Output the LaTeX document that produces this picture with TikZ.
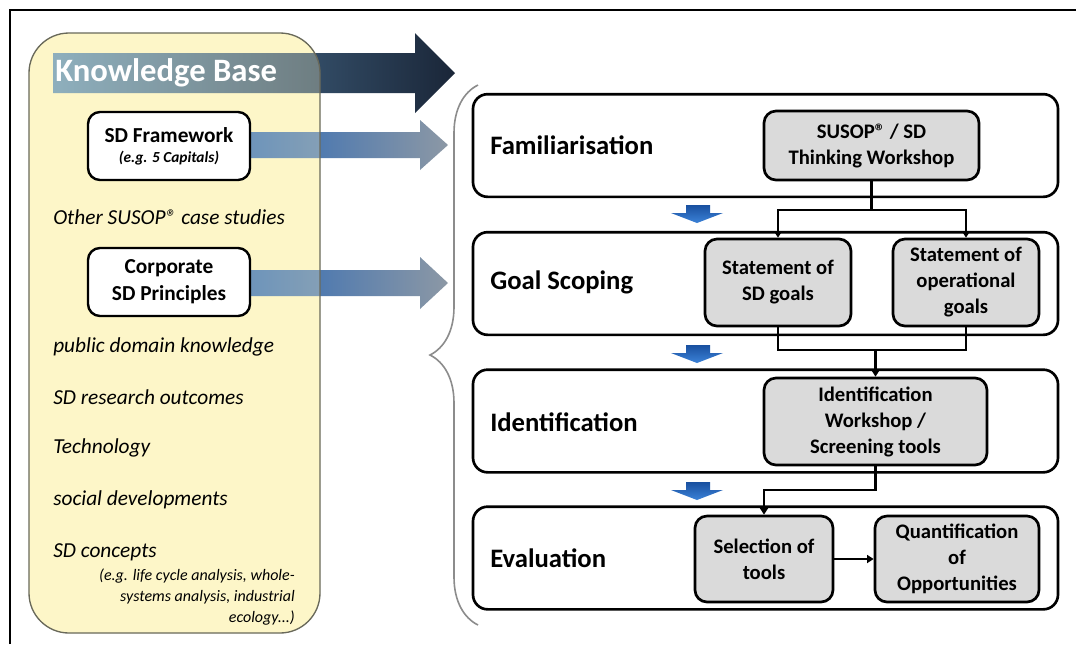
\documentclass[tikz,border=0pt]{standalone}
\usepackage{fontspec}
\setmainfont{Carlito}
\usetikzlibrary{arrows.meta,decorations.pathreplacing}
\definecolor{kbyellow}{RGB}{253,246,200}
\definecolor{kbborder}{RGB}{105,105,90}
\definecolor{boxgray}{RGB}{218,218,218}
\definecolor{bracegray}{RGB}{140,140,140}
\definecolor{bigL}{RGB}{95,145,185}
\definecolor{bigR}{RGB}{26,38,56}
\definecolor{smL}{RGB}{25,95,185}
\definecolor{smR}{RGB}{140,152,165}
\definecolor{dnTop}{RGB}{25,80,160}
\definecolor{dnBot}{RGB}{60,130,215}
\begin{document}
\begin{tikzpicture}[x=0.75pt,y=-0.75pt,
  stagebox/.style={draw=black, line width=2pt, fill=white, rounded corners=11pt,
    minimum width=438.75pt, minimum height=77pt, inner sep=0pt},
  stagelabel/.style={anchor=west, inner sep=0pt, font=\bfseries\fontsize{20}{24}\selectfont},
  ibox/.style={draw=black, line width=2pt, fill=boxgray, rounded corners=9pt, align=center,
    inner sep=0pt, font=\bfseries\fontsize{15.5}{19.5}\selectfont},
  kbox/.style={draw=black, line width=1.8pt, fill=white, rounded corners=9pt, align=center,
    inner sep=0pt, minimum width=121.5pt, minimum height=51pt},
  item/.style={anchor=west, inner sep=0pt, font=\itshape\fontsize{16}{19}\selectfont},
  conn/.style={draw=black, line width=2pt},
  tip/.style={-{Triangle[length=5pt,width=6pt]}}
]
\useasboundingbox (0,0) rectangle (1076,644);
\fill[white] (0,0) rectangle (1076,644);
\draw[line width=1.5pt] (10,644) -- (10,10) -- (1076,10);

% knowledge base panel (opaque base)
\fill[kbyellow, rounded corners=30pt] (29,33) rectangle (320,633);

% wide arrows
\shade[left color=bigL, right color=bigR]
  (53,53) -- (415,53) -- (415,33) -- (455,73) -- (415,113) -- (415,93) -- (53,93) -- cycle;
\shade[left color=smL, right color=smR]
  (200,132) -- (420,132) -- (420,120) -- (448,145) -- (420,170) -- (420,158) -- (200,158) -- cycle;
\shade[left color=smL, right color=smR]
  (200,270) -- (420,270) -- (420,257) -- (448,283) -- (420,309) -- (420,296) -- (200,296) -- cycle;

% translucent overlay of the panel
\fill[kbyellow, fill opacity=0.3, rounded corners=30pt] (29,33) rectangle (320,633);
\draw[kbborder, line width=1pt, rounded corners=30pt] (29,33) rectangle (320,633);

\node[anchor=west, inner sep=0pt, text=white, font=\bfseries\fontsize{24.5}{28}\selectfont] (kbt) at (55,73) {Knowledge Base};

\node[kbox, font=\bfseries\fontsize{16}{15}\selectfont] (fw) at (169,146)
  {SD Framework\\{\itshape\fontsize{11.5}{14}\selectfont (e.g. 5 Capitals)}};
\node[kbox, font=\bfseries\fontsize{16}{20}\selectfont] (cp) at (169,282) {Corporate\\SD Principles};

\node[item] (i1) at (53,217) {Other SUSOP® case studies};
\node[item] (i2) at (53,347) {public domain knowledge};
\node[item] (i3) at (53,397) {SD research outcomes};
\node[item] (i4) at (53,448) {Technology};
\node[item] (i5) at (53,500) {social developments};
\node[item] (i6) at (53,552) {SD concepts};
\node[anchor=east, inner sep=0pt, align=right, font=\itshape\fontsize{12}{15.75}\selectfont] (i7) at (295,597)
  {(e.g. life cycle analysis, whole-\\systems analysis, industrial\\ecology...)};

% brace
\draw[bracegray, line width=1.2pt, decorate, decoration={brace, amplitude=36pt}] (478,625) -- (478,85);

% stage boxes
\node[stagebox] (fam) at (765.5,145.5) {};
\node[stagebox] (goal) at (765.5,283.5) {};
\node[stagebox] (ident) at (765.5,421) {};
\node[stagebox] (eval) at (765.5,558) {};

\node[stagelabel] (famL) at (490,145) {Familiarisation};
\node[stagelabel] (goalL) at (490,282) {Goal Scoping};
\node[stagelabel] (identL) at (490,422) {Identification};
\node[stagelabel] (evalL) at (490,558) {Evaluation};

% blue down arrows
\foreach \yy in {205,345,482}{
  \shade[top color=dnTop, bottom color=dnBot]
    (686,\yy) -- (710,\yy) -- (710,\yy+8) -- (723,\yy+8) -- (697,\yy+18) -- (671,\yy+8) -- (686,\yy+8) -- cycle;
}

% inner boxes
\node[ibox, minimum width=161.25pt, minimum height=51.75pt] (susop) at (871.5,145.5) {SUSOP® / SD\\Thinking Workshop};
\node[ibox, minimum width=109.5pt, minimum height=65.25pt] (sdg) at (778,282.5) {Statement of\\SD goals};
\node[ibox, minimum width=109.5pt, minimum height=65.25pt] (opg) at (966,282.5) {Statement of\\operational\\goals};
\node[ibox, minimum width=167.25pt, minimum height=65.25pt] (idw) at (875.5,421.5) {Identification\\Workshop /\\Screening tools};
\node[ibox, minimum width=103.5pt, minimum height=64.5pt] (sel) at (764,559) {Selection of\\tools};
\node[ibox, minimum width=123pt, minimum height=64.5pt] (qua) at (957,559) {Quantification\\of\\Opportunities};

% connectors
\coordinate (j1) at (871.5,210);
\coordinate (j2) at (875.5,350);
\coordinate (j3) at (875.5,490);
\draw[conn] (susop.south) -- (j1);
\draw[conn, tip] (j1) -| (sdg.north);
\draw[conn, tip] (j1) -| (opg.north);
\draw[conn] (sdg.south) |- (j2);
\draw[conn] (opg.south) |- (j2);
\draw[conn, tip] (j2) -- (idw.north);
\draw[conn, tip] (idw.south) -- (j3) -| (sel.north);
\draw[conn, tip] (sel.east) -- (qua.west);
\end{tikzpicture}
\end{document}
